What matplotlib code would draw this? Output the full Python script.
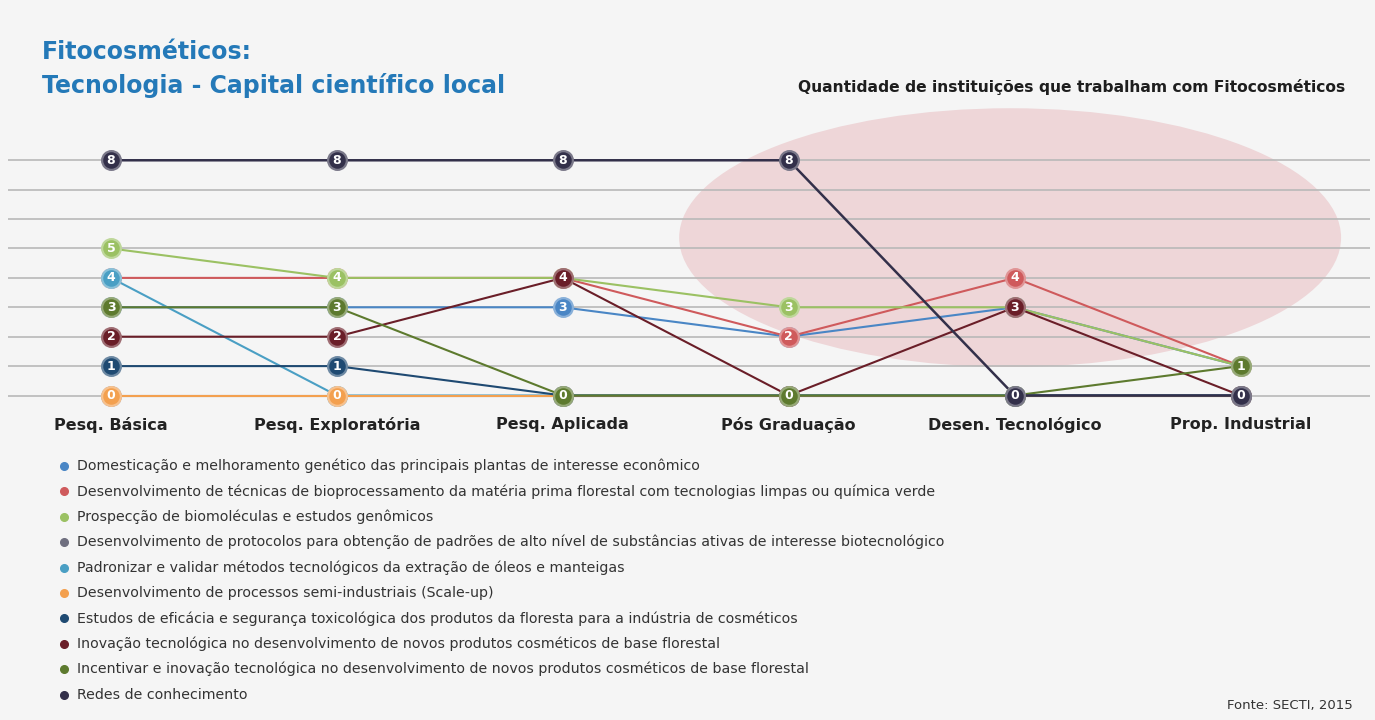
import matplotlib
matplotlib.use("Agg")

import matplotlib.pyplot as plt
import matplotlib.colors as mcolors
from matplotlib.patches import Ellipse
import numpy as np

# =====================================================================
# DADOS
# =====================================================================
stages = ["Pesq. Básica", "Pesq. Exploratória", "Pesq. Aplicada",
          "Pós Graduação", "Desen. Tecnológico", "Prop. Industrial"]

topics = [
    "Domesticação e melhoramento genético das principais plantas de interesse econômico",
    "Desenvolvimento de técnicas de bioprocessamento da matéria prima florestal com tecnologias limpas ou química verde",
    "Prospecção de biomoléculas e estudos genômicos",
    "Desenvolvimento de protocolos para obtenção de padrões de alto nível de substâncias ativas de interesse biotecnológico",
    "Padronizar e validar métodos tecnológicos da extração de óleos e manteigas",
    "Desenvolvimento de processos semi-industriais (Scale-up)",
    "Estudos de eficácia e segurança toxicológica dos produtos da floresta para a indústria de cosméticos",
    "Inovação tecnológica no desenvolvimento de novos produtos cosméticos de base florestal",
    "Incentivar e inovação tecnológica no desenvolvimento de novos produtos cosméticos de base florestal",
    "Redes de conhecimento",
]

domesticacao = [3, 3, 3, 2, 3, 1]
bioprocessamento = [4, 4, 4, 2, 4, 1]
prospeccao = [5, 4, 4, 3, 3, 1]
protocolos = [0, 0, 0, 0, 0, 0]
padronizar = [4, 0, 0, 0, 0, 0]
scale_up = [0, 0, 0, 0, 0, 0]
estudos = [1, 1, 0, 0, 0, 0]
inovacao = [2, 2, 4, 0, 3, 0]
incentivar = [3, 3, 0, 0, 0, 1]
redes = [8, 8, 8, 8, 0, 0]

series = [domesticacao, bioprocessamento, prospeccao, protocolos, padronizar,
          scale_up, estudos, inovacao, incentivar, redes]

colors = ["#4a86c5", "#cf5a5c", "#9bc163", "#6f6f7f", "#4a9fc4",
          "#f3a04f", "#1f4a72", "#6a1e28", "#5d7a2e", "#33304a"]

# ordem de empilhamento dos marcadores (de baixo para cima)
draw_order = [3, 0, 1, 4, 5, 2, 6, 7, 8, 9]

BG = "#f5f5f5"
TITLE_BLUE = "#2479b8"


def lighten(c, amt=0.35):
    r, g, b = mcolors.to_rgb(c)
    return (r + (1 - r) * amt, g + (1 - g) * amt, b + (1 - b) * amt)


# =====================================================================
# FIGURA
# =====================================================================
W, H = 1375, 720
fig = plt.figure(figsize=(W / 100, H / 100), dpi=100, facecolor=BG)

# area do grafico (em pixels: x 8..1370, y 100..415)
ax = fig.add_axes([8 / W, 1 - 415 / H, (1370 - 8) / W, (415 - 100) / H])
ax.set_facecolor("none")
ax.set_xlim(-0.456, 5.573)
ax.set_ylim(-0.663, 10.05)
ax.axis("off")

# elipse de destaque
ax.add_patch(Ellipse((3.98, 5.37), 2.93, 8.8, facecolor="#eed6d8",
                     edgecolor="none", zorder=0.5, clip_on=False))

# linhas de grade horizontais
for v in range(0, 9):
    ax.axhline(v, color="#b8b8b8", lw=1.2, zorder=1)

x = np.arange(len(stages))

# linhas
for k, idx in enumerate(draw_order):
    lw = 1.8 if idx == 9 else 1.5
    ax.plot(x, series[idx], color=colors[idx], lw=lw, zorder=2 + k * 0.01,
            solid_capstyle="round")

# marcadores com numero
for k, idx in enumerate(draw_order):
    z = 3 + k * 0.1
    ax.plot(x, series[idx], linestyle="none", marker="o", markersize=13.5,
            markerfacecolor=colors[idx], markeredgecolor=lighten(colors[idx]),
            markeredgewidth=1.6, zorder=z)
    for xi, v in zip(x, series[idx]):
        ax.text(xi, v, str(v), color="white", fontsize=9, fontweight="bold",
                ha="center", va="center", zorder=z + 0.05)

# rotulos das etapas
for xi, lab in zip(x, stages):
    ax.text(xi, -1.0, lab, ha="center", va="center", fontsize=11.5,
            fontweight="bold", color="#222222", clip_on=False)

# =====================================================================
# TEXTOS E LEGENDA (coordenadas em pixels)
# =====================================================================
ov = fig.add_axes([0, 0, 1, 1], facecolor="none")
ov.set_xlim(0, W)
ov.set_ylim(H, 0)
ov.axis("off")

ov.text(42, 52, "Fitocosméticos:", fontsize=17, fontweight="bold",
        color=TITLE_BLUE, va="center", ha="left")
ov.text(42, 86, "Tecnologia - Capital científico local", fontsize=17,
        fontweight="bold", color=TITLE_BLUE, va="center", ha="left")

ov.text(1345, 87, "Quantidade de instituições que trabalham com Fitocosméticos",
        fontsize=11.2, fontweight="bold", color="#1e1e1e", ha="right",
        va="center")

for i, (lab, c) in enumerate(zip(topics, colors)):
    yy = 466 + i * 25.4
    ov.plot([64], [yy], marker="o", markersize=5.5, color=c, linestyle="none")
    ov.text(77, yy, lab, fontsize=10.2, color="#333333", va="center", ha="left")

ov.text(1353, 705, "Fonte: SECTI, 2015", fontsize=9.5, color="#333333",
        ha="right", va="center")

fig.savefig("out.png", dpi=100, facecolor=BG)
